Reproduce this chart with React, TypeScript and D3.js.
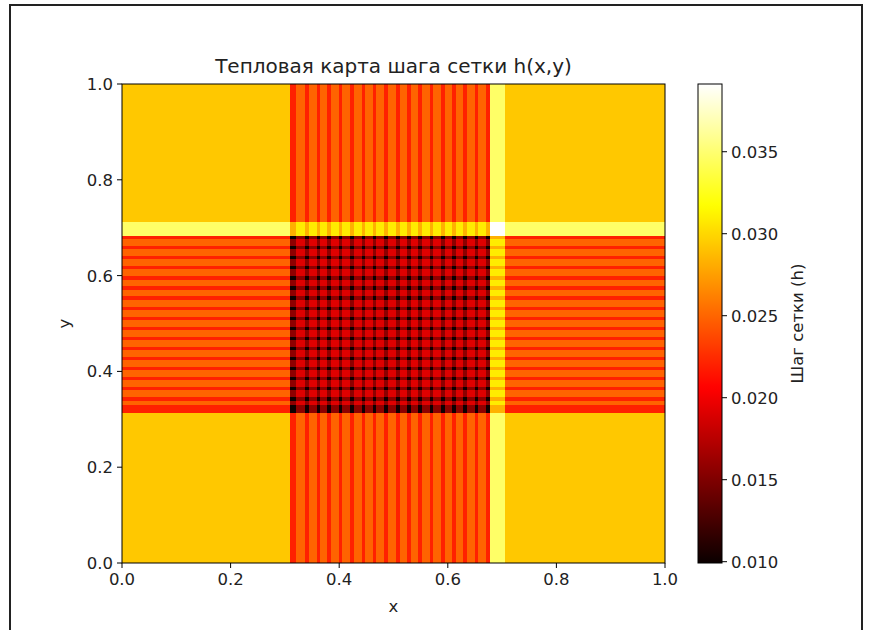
import React from "react";
import * as d3 from "d3";

// ---- data ----
const xTicks = [0, 0.2, 0.4, 0.6, 0.8, 1.0];
const yTicks = [0, 0.2, 0.4, 0.6, 0.8, 1.0];
const cbTicks = [0.01, 0.015, 0.02, 0.025, 0.03, 0.035];
const hDomain: [number, number] = [0.00992, 0.03913];

// zones along x: coarse | fine (striped) | light band | coarse
const xZoneEdges = [0, 0.3094, 0.6777, 0.7053, 1];
// narrow (red) stripes inside the fine x zone
const xNarrowStripes: [number, number][] = [
  [0.3094, 0.3204], [0.337, 0.3444], [0.3591, 0.3646], [0.3775, 0.3849],
  [0.3996, 0.4052], [0.4199, 0.4273], [0.442, 0.4475], [0.4623, 0.4678],
  [0.4825, 0.4899], [0.5046, 0.512], [0.5249, 0.5322], [0.5451, 0.5525],
  [0.5672, 0.5727], [0.5875, 0.5948], [0.6077, 0.6151], [0.628, 0.6354],
  [0.6501, 0.6556], [0.6703, 0.6777],
];
// zones along y: coarse | fine (striped) | light band | coarse
const yZoneEdges = [0, 0.31315, 0.68267, 0.7119, 1];
const yNarrowStripes: [number, number][] = [
  [0.31315, 0.32985], [0.33914, 0.34603], [0.36023, 0.36712], [0.38131, 0.3882],
  [0.4024, 0.40929], [0.42328, 0.43017], [0.44436, 0.45125], [0.46545, 0.47234],
  [0.48653, 0.49342], [0.50762, 0.51451], [0.5285, 0.53539], [0.54958, 0.55647],
  [0.57067, 0.57756], [0.59175, 0.59864], [0.61284, 0.61973], [0.63372, 0.64061],
  [0.6548, 0.66169], [0.67578, 0.68267],
];
// h value for each (column kind, row kind) pair; C coarse, A wide fine, B narrow fine, L light
const hByKind: Record<string, number> = {
  CC: 0.0293, CA: 0.0249, CB: 0.022, CL: 0.0347, LL: 0.0391,
  AL: 0.0309, BL: 0.0283, AA: 0.0192, AB: 0.0156, BB: 0.01,
};

const title = "Тепловая карта шага сетки h(x,y)";
const xLabel = "x";
const yLabel = "y";
const cbLabel = "Шаг сетки (h)";

type Band = { a: number; b: number; kind: string };

function buildBands(zones: number[], stripes: [number, number][]): Band[] {
  const out: Band[] = [];
  out.push({ a: zones[0], b: zones[1], kind: "C" });
  let cur = zones[1];
  for (const [s0, s1] of stripes) {
    if (s0 > cur + 1e-6) out.push({ a: cur, b: s0, kind: "A" });
    out.push({ a: s0, b: s1, kind: "B" });
    cur = s1;
  }
  if (zones[2] > cur + 1e-6) out.push({ a: cur, b: zones[2], kind: "A" });
  out.push({ a: zones[2], b: zones[3], kind: "L" });
  out.push({ a: zones[3], b: zones[4], kind: "C" });
  return out;
}

function hot(t: number): string {
  t = Math.max(0, Math.min(1, t));
  const k1 = 0.365079, k2 = 0.746032;
  const r = t < k1 ? 0.0416 + (1 - 0.0416) * (t / k1) : 1;
  const g = t < k1 ? 0 : t < k2 ? (t - k1) / (k2 - k1) : 1;
  const b = t < k2 ? 0 : (t - k2) / (1 - k2);
  return d3.rgb(r * 255, g * 255, b * 255).formatHex();
}

function pairKey(a: string, b: string) {
  const order = "CABL";
  return [a, b].sort((p, q) => order.indexOf(p) - order.indexOf(q)).join("");
}

const W = 875, H = 630;
const M = { left: 122, right: 665, top: 84, bottom: 563 };
const CB = { x: 698, w: 24 };
const FONT = "DejaVu Sans, sans-serif";
const FS = 16.5;

export default function App() {
  const x = d3.scaleLinear().domain([0, 1]).range([M.left, M.right]);
  const y = d3.scaleLinear().domain([0, 1]).range([M.bottom, M.top]);
  const cNorm = d3.scaleLinear().domain(hDomain).range([0, 1]);
  const color = (v: number) => hot(cNorm(v));
  const cbY = d3.scaleLinear().domain(hDomain).range([M.bottom, M.top]);

  const xb = buildBands(xZoneEdges, xNarrowStripes);
  const yb = buildBands(yZoneEdges, yNarrowStripes);

  const cells: JSX.Element[] = [];
  xb.forEach((cx, i) =>
    yb.forEach((ry, j) => {
      const v = hByKind[pairKey(cx.kind, ry.kind)];
      cells.push(
        <rect
          key={`${i}-${j}`}
          x={x(cx.a)}
          y={y(ry.b)}
          width={x(cx.b) - x(cx.a)}
          height={y(ry.a) - y(ry.b)}
          fill={color(v)}
          shapeRendering="crispEdges"
        />
      );
    })
  );

  const stops = d3.range(0, 101).map((i) => (
    <stop key={i} offset={`${i}%`} stopColor={hot(i / 100)} />
  ));

  return (
    <svg
      width={W}
      height={H}
      style={{ position: "absolute", left: 0, top: 0, background: "#fff" }}
      fontFamily={FONT}
    >
      <defs>
        <linearGradient id="cbgrad" x1="0" y1="1" x2="0" y2="0">
          {stops}
        </linearGradient>
      </defs>
      <rect x={0} y={0} width={W} height={H} fill="#fff" />
      {/* outer frame */}
      <path d={`M10,${H} L10,5 L862,5 L862,${H}`} fill="none" stroke="#222" strokeWidth={2} />

      {cells}
      <rect
        x={M.left}
        y={M.top}
        width={M.right - M.left}
        height={M.bottom - M.top}
        fill="none"
        stroke="#000"
        strokeWidth={1}
      />

      {/* x axis */}
      {xTicks.map((t) => (
        <g key={`xt${t}`}>
          <line x1={x(t)} x2={x(t)} y1={M.bottom} y2={M.bottom + 5} stroke="#000" />
          <text x={x(t)} y={M.bottom + 22} fontSize={FS} textAnchor="middle" fill="#222">
            {t.toFixed(1)}
          </text>
        </g>
      ))}
      {yTicks.map((t) => (
        <g key={`yt${t}`}>
          <line x1={M.left - 5} x2={M.left} y1={y(t)} y2={y(t)} stroke="#000" />
          <text x={M.left - 9} y={y(t) + 6} fontSize={FS} textAnchor="end" fill="#222">
            {t.toFixed(1)}
          </text>
        </g>
      ))}
      <text x={(M.left + M.right) / 2} y={612} fontSize={FS} textAnchor="middle" fill="#222">
        {xLabel}
      </text>
      <text
        transform={`translate(70,${(M.top + M.bottom) / 2}) rotate(-90)`}
        fontSize={FS}
        textAnchor="middle"
        fill="#222"
      >
        {yLabel}
      </text>
      <text x={(M.left + M.right) / 2} y={73} fontSize={20} textAnchor="middle" fill="#222">
        {title}
      </text>

      {/* colorbar */}
      <rect x={CB.x} y={M.top} width={CB.w} height={M.bottom - M.top} fill="url(#cbgrad)" />
      <rect
        x={CB.x}
        y={M.top}
        width={CB.w}
        height={M.bottom - M.top}
        fill="none"
        stroke="#000"
        strokeWidth={1}
      />
      {cbTicks.map((t) => (
        <g key={`cb${t}`}>
          <line x1={CB.x + CB.w} x2={CB.x + CB.w + 5} y1={cbY(t)} y2={cbY(t)} stroke="#000" />
          <text x={CB.x + CB.w + 9} y={cbY(t) + 6} fontSize={FS} fill="#222">
            {t.toFixed(3)}
          </text>
        </g>
      ))}
      <text
        transform={`translate(803,${(M.top + M.bottom) / 2}) rotate(-90)`}
        fontSize={FS}
        textAnchor="middle"
        fill="#222"
      >
        {cbLabel}
      </text>
    </svg>
  );
}
